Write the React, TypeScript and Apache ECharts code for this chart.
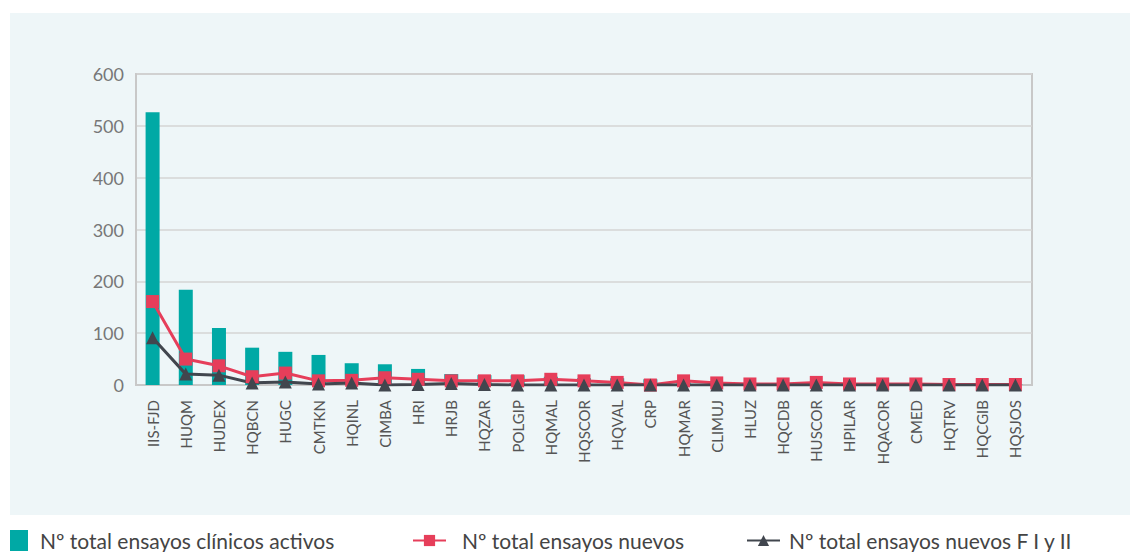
import React, { useEffect, useRef } from "react";
import * as echarts from "echarts";

const categories = [
  "IIS-FJD", "HUQM", "HUDEX", "HQBCN", "HUGC", "CMTKN", "HQINL", "CIMBA", "HRI", "HRJB",
  "HQZAR", "POLGIP", "HQMAL", "HQSCOR", "HQVAL", "CRP", "HQMAR", "CLIMUJ", "HLUZ", "HQCDB",
  "HUSCOR", "HPILAR", "HQACOR", "CMED", "HQTRV", "HQCGIB", "HQSJOS",
];
const activos = [526, 184, 110, 72, 64, 58, 42, 40, 31, 21, 19, 19, 16, 13, 13, 11, 8, 5, 4, 4, 4, 2, 3, 2, 1, 1, 1];
const nuevos = [161, 50, 37, 16, 23, 8, 9, 14, 11, 8, 8, 8, 11, 8, 5, 0, 8, 4, 2, 2, 5, 2, 2, 2, 1, 1, 1];
const fases = [91, 21, 19, 4, 6, 2, 4, 0, 1, 3, 1, 0, 0, 0, 0, 0, 0, 0, 0, 0, 0, 0, 0, 0, 0, 0, 0];

const seriesNames = [
  "Nº total ensayos clínicos activos",
  "Nº total ensayos nuevos",
  "Nº total ensayos nuevos F I y II",
];

const FONT = "Lato, 'Liberation Sans', sans-serif";
const legendText = { fontFamily: FONT, fontSize: 21, lineHeight: 21, color: "#444" };

export default function App() {
  const ref = useRef<HTMLDivElement>(null);
  useEffect(() => {
    document.body.style.margin = "0";
    const chart = echarts.init(ref.current!, undefined, { renderer: "svg" });
    chart.setOption({
      animation: false,
      textStyle: { fontFamily: FONT },
      graphic: [
        {
          type: "rect",
          z: -10,
          silent: true,
          shape: { x: 10, y: 13, width: 1120, height: 502 },
          style: { fill: "#EEF6F8" },
        },
      ],
      grid: {
        left: 136,
        top: 74,
        right: 98,
        bottom: 167,
        show: true,
        borderColor: "#c8c8c8",
        borderWidth: 2,
        backgroundColor: "transparent",
      },
      legend: [
        {
          data: [seriesNames[0]],
          left: 10,
          top: 530,
          padding: 0,
          itemWidth: 18,
          itemHeight: 21,
          icon: "rect",
          textStyle: { ...legendText, padding: [0, 0, 0, 7] },
        },
        {
          data: [seriesNames[1]],
          left: 412,
          top: 530,
          padding: 0,
          itemWidth: 33,
          itemHeight: 14,
          textStyle: { ...legendText, padding: [0, 0, 0, 11] },
        },
        {
          data: [seriesNames[2]],
          left: 746,
          top: 530,
          padding: 0,
          itemWidth: 33,
          itemHeight: 14,
          textStyle: { ...legendText, padding: [0, 0, 0, 4] },
        },
      ],
      xAxis: {
        type: "category",
        data: categories,
        axisLine: { show: true, lineStyle: { color: "#c8c8c8", width: 2 } },
        axisTick: { show: false },
        axisLabel: {
          rotate: 90,
          interval: 0,
          margin: 15,
          fontFamily: FONT,
          fontSize: 15,
          color: "#555",
        },
      },
      yAxis: {
        type: "value",
        min: 0,
        max: 600,
        interval: 100,
        axisLine: { show: true, lineStyle: { color: "#c8c8c8", width: 2 } },
        axisTick: { show: false },
        splitLine: { lineStyle: { color: "#d4d4d4", width: 1.5 } },
        axisLabel: { margin: 12, fontFamily: FONT, fontSize: 18, color: "#777" },
      },
      series: [
        {
          name: seriesNames[0],
          type: "bar",
          data: activos,
          barWidth: 14,
          itemStyle: { color: "#00A9A5" },
        },
        {
          name: seriesNames[1],
          type: "line",
          data: nuevos,
          symbol: "rect",
          symbolSize: 13,
          lineStyle: { color: "#E63E5A", width: 3 },
          itemStyle: { color: "#E63E5A" },
        },
        {
          name: seriesNames[2],
          type: "line",
          data: fases,
          symbol: "triangle",
          symbolSize: 13,
          lineStyle: { color: "#41464E", width: 3 },
          itemStyle: { color: "#41464E" },
        },
      ],
    });
    return () => chart.dispose();
  }, []);
  return <div ref={ref} style={{ width: 1130, height: 552, background: "#fff" }} />;
}
